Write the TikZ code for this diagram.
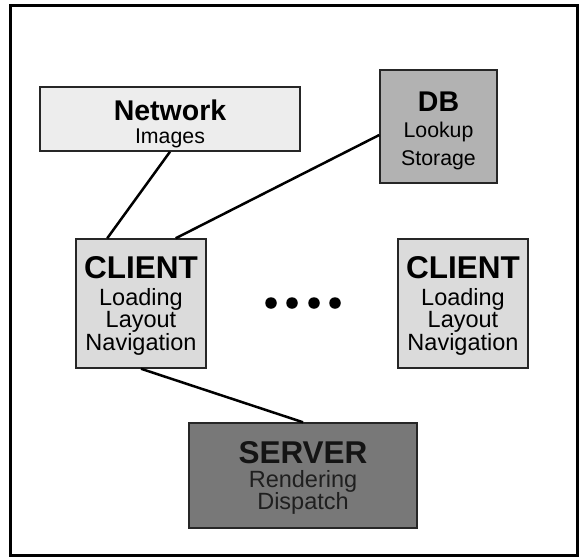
\documentclass[tikz,border=0pt]{standalone}
\usepackage{fontspec}
\setmainfont{Liberation Sans}
\definecolor{netfill}{gray}{0.93}
\definecolor{clientfill}{gray}{0.86}
\definecolor{dbfill}{gray}{0.70}
\definecolor{serverfill}{gray}{0.47}
\definecolor{edge}{gray}{0.15}
\tikzset{
  box/.style={draw=edge, line width=1.5pt, inner sep=0pt},
  link/.style={line width=2.5pt, black},
  title/.style={font=\bfseries\fontsize{31.5}{31.5}\selectfont, anchor=base, inner sep=0pt},
  sub/.style={font=\fontsize{23.5}{23.5}\selectfont, anchor=base, inner sep=0pt},
  toptitle/.style={font=\bfseries\fontsize{28.5}{28.5}\selectfont, anchor=base, inner sep=0pt},
  topsub/.style={font=\fontsize{21.3}{21.3}\selectfont, anchor=base, inner sep=0pt},
  dot/.style={circle, fill=black, minimum size=11.5pt, inner sep=0pt},
}
\begin{document}
\begin{tikzpicture}[x=1pt, y=-1pt]
  \useasboundingbox (0,0) rectangle (580,558);
  % outer frame
  \draw[line width=3pt, black] (10,5) rectangle (577,555);

  % boxes
  \node[box, fill=netfill, minimum width=260pt, minimum height=64pt] (net) at (170,119) {};
  \node[box, fill=dbfill, minimum width=117pt, minimum height=113pt] (db) at (438.5,126.5) {};
  \node[box, fill=clientfill, minimum width=130pt, minimum height=129pt] (cl1) at (141,303.5) {};
  \node[box, fill=clientfill, minimum width=130pt, minimum height=129pt] (cl2) at (463,303.5) {};
  \node[box, fill=serverfill, minimum width=228pt, minimum height=105pt] (srv) at (303,475.5) {};

  % labels
  \node[toptitle] (netT) at (170,120) {Network};
  \node[topsub]   (netA) at (170,143) {Images};

  \node[toptitle] (dbT) at (438.5,111) {DB};
  \node[topsub]   (dbA) at (438.5,137) {Lookup};
  \node[topsub]   (dbB) at (438.5,165) {Storage};

  \node[title] (c1T) at (141,278) {CLIENT};
  \node[sub]   (c1A) at (141,305) {Loading};
  \node[sub]   (c1B) at (141,327) {Layout};
  \node[sub]   (c1C) at (141,350) {Navigation};

  \node[title] (c2T) at (463,278) {CLIENT};
  \node[sub]   (c2A) at (463,305) {Loading};
  \node[sub]   (c2B) at (463,327) {Layout};
  \node[sub]   (c2C) at (463,350) {Navigation};

  \node[title, text=black!92] (sT) at (303,463) {SERVER};
  \node[sub, text=black!88]   (sA) at (303,487) {Rendering};
  \node[sub, text=black!88]   (sB) at (303,509) {Dispatch};

  % ellipsis between the clients
  \node[dot] (d1) at (271,303) {};
  \node[dot] (d2) at (292,303) {};
  \node[dot] (d3) at (314,303) {};
  \node[dot] (d4) at (335,303) {};

  % connectors
  \draw[link] (net.south) -- ([xshift=32pt]cl1.north west);
  \draw[link] ([yshift=-8.5pt]db.west) -- ([xshift=-31pt]cl1.north east);
  \draw[link] (cl1.south) -- (srv.north);
\end{tikzpicture}
\end{document}
